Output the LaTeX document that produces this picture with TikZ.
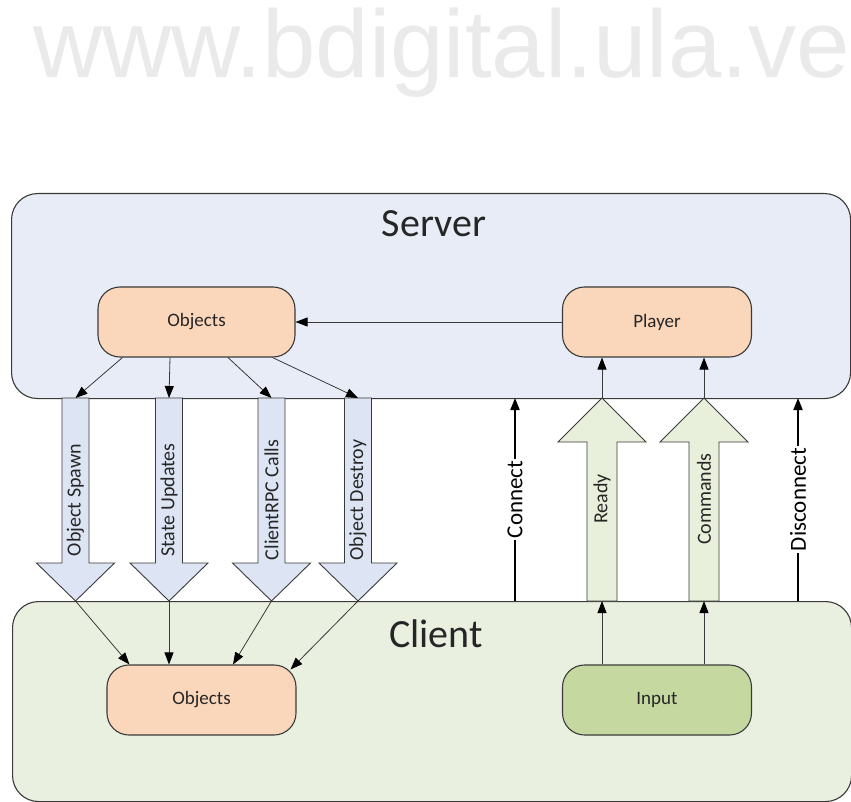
\documentclass[tikz,border=0pt]{standalone}
\usepackage{fontspec}
\setmainfont{Carlito}
\newfontfamily\wmfont{Liberation Sans}
\usetikzlibrary{arrows.meta,calc}

\definecolor{serverfill}{HTML}{E7ECF6}
\definecolor{clientfill}{HTML}{EAF0E0}
\definecolor{peach}{HTML}{FAD6BA}
\definecolor{olive}{HTML}{C5D8A0}
\definecolor{bluearrow}{HTML}{DDE4F3}
\definecolor{greenarrow}{HTML}{E8EFDA}
\definecolor{edge}{HTML}{3A3A3A}
\definecolor{wmgray}{HTML}{EAEAEA}
\definecolor{ink}{HTML}{262626}

\tikzset{
  region/.style={draw=edge, line width=1.1pt, rounded corners=26pt, inner sep=0pt, anchor=north west},
  entity/.style={draw=edge, line width=1.1pt, rounded corners=22pt, minimum width=189pt,
                 minimum height=70pt, font=\fontsize{19}{19}\selectfont, text=ink, inner sep=0pt},
  title/.style={font=\fontsize{40}{40}\selectfont, text=ink, anchor=base, inner sep=0pt},
  flow/.style={draw=edge, line width=0.8pt, -{Triangle[length=12pt,width=9pt,color=black]}},
  signal/.style={draw=black, line width=1.8pt, -{Triangle[length=12pt,width=9pt]}},
  block/.style={draw=edge, line width=0.9pt},
  blocklabel/.style={rotate=90, font=\fontsize{20}{20}\selectfont, text=ink, inner sep=0pt},
  siglabel/.style={rotate=90, fill=white, font=\fontsize{23}{23}\selectfont, text=black, inner sep=1.5pt},
}

% downward block arrow: name, centre x, label
\newcommand\downblock[3]{%
  \draw[block, fill=bluearrow] (#2-13.5,398) -- (#2+13.5,398) -- (#2+13.5,563) -- (#2+39,563)
    -- (#2,601) -- (#2-39,563) -- (#2-13.5,563) -- cycle;
  \coordinate (#1-top) at (#2,398);
  \coordinate (#1-tip) at (#2,601);
  \node[blocklabel] (#1-label) at (#2,500) {#3};
}
% upward block arrow: name, centre x, label
\newcommand\upblock[3]{%
  \draw[block, fill=greenarrow] (#2-15,601) -- (#2+15,601) -- (#2+15,442) -- (#2+44,442)
    -- (#2,398) -- (#2-44,442) -- (#2-15,442) -- cycle;
  \coordinate (#1-base) at (#2,601);
  \coordinate (#1-tip) at (#2,398);
  \node[blocklabel] (#1-label) at (#2,499) {#3};
}

\begin{document}
\begin{tikzpicture}[x=1pt, y=-1pt]
  \useasboundingbox (0,0) rectangle (851,802);

  % site watermark
  \node[anchor=base west, inner sep=0pt, text=wmgray,
        font=\wmfont\fontsize{96}{96}\selectfont] (wm) at (33,78) {www.bdigital.ula.ve};

  % the two regions
  \node[region, fill=serverfill, minimum width=839pt, minimum height=205pt] (server) at (11,193) {};
  \node[region, fill=clientfill, minimum width=839pt, minimum height=200pt] (client) at (12,601) {};
  \node[title] (servertitle) at (434,237) {Server};
  \node[title] (clienttitle) at (436,647) {Client};

  % entities
  \node[entity, fill=peach, minimum width=197pt] (sobj) at (196.5,322) {Objects};
  \node[entity, fill=peach] (player) at (657,322) {Player};
  \node[entity, fill=peach] (cobj) at (201.5,700) {Objects};
  \node[entity, fill=olive] (input) at (657,700) {Input};

  % server to client messages
  \downblock{spawn}{75.5}{Object Spawn}
  \downblock{state}{169}{State Updates}
  \downblock{rpc}{271.5}{ClientRPC Calls}
  \downblock{destroy}{358}{Object Destroy}

  % client to server messages
  \upblock{ready}{602}{Ready}
  \upblock{cmd}{704}{Commands}

  % server internal flow
  \draw[flow] (player.west) -- (sobj.east);
  \draw[flow] ([xshift=25pt]sobj.south west) -- (spawn-top);
  \draw[flow] ([xshift=-26.5pt]sobj.south) -- (state-top);
  \draw[flow] ([xshift=31.5pt]sobj.south) -- (rpc-top);
  \draw[flow] ([xshift=-23pt]sobj.south east) -- (destroy-top);

  % delivery to client objects
  \draw[flow] (spawn-tip) -- ([xshift=23pt]cobj.north west);
  \draw[flow] (state-tip) -- (state-tip |- cobj.north);
  \draw[flow] (rpc-tip) -- ([xshift=31.5pt]cobj.north);
  \draw[flow] (destroy-tip) -- ([xshift=-6pt,yshift=-5pt]cobj.north east);

  % input to player
  \draw[flow] (input.north -| ready-base) -- (ready-base);
  \draw[flow] (input.north -| cmd-base) -- (cmd-base);
  \draw[flow] (ready-tip) -- (ready-tip |- player.south);
  \draw[flow] (cmd-tip) -- (cmd-tip |- player.south);

  % connection signals
  \coordinate (conn-bot) at (515,601);
  \coordinate (conn-top) at (515,398);
  \coordinate (disc-bot) at (798,601);
  \coordinate (disc-top) at (798,398);
  \draw[signal] (conn-bot) -- node[siglabel] (conn-label) {Connect} (conn-top);
  \draw[signal] (disc-bot) -- node[siglabel] (disc-label) {Disconnect} (disc-top);
\end{tikzpicture}
\end{document}
